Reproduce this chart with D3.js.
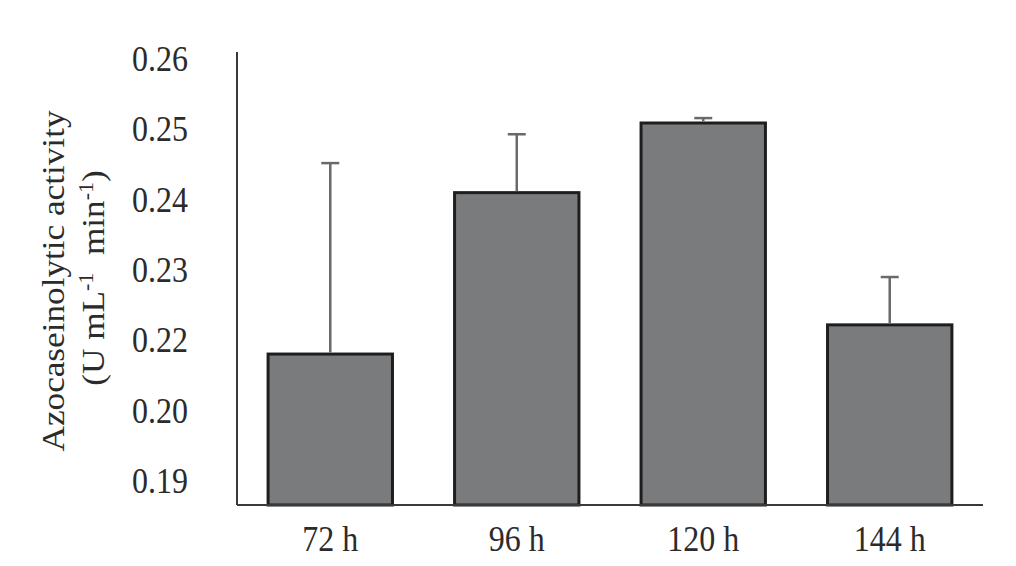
<!DOCTYPE html>
<html>
<head>
<meta charset="utf-8">
<script src="https://cdn.jsdelivr.net/npm/d3@7"></script>
<style>
  body { margin: 0; background: #fff; }
  text { font-family: "Liberation Serif", "Times New Roman", serif; fill: #2b2b2b; }
</style>
</head>
<body>
<div id="chart"></div>
<script>
// Données
var categories = ["72 h", "96 h", "120 h", "144 h"];
var activity = [0.2161, 0.2410, 0.2509, 0.2222];
var errors = [0.0291, 0.0083, 0.0007, 0.0068];
var tickValues = [0.19, 0.20, 0.22, 0.23, 0.24, 0.25, 0.26];
var tickLabels = ["0.19", "0.20", "0.22", "0.23", "0.24", "0.25", "0.26"];

// Dimensions
var margin = {
        top: 52,
        right: 33,
        bottom: 61,
        left: 237
    },
    width = 1016 - margin.left - margin.right,
    height = 566 - margin.top - margin.bottom;

var svg = d3.select("#chart")
    .append("svg")
    .attr("width", width + margin.left + margin.right)
    .attr("height", height + margin.top + margin.bottom)
    .append("g")
    .attr("transform", "translate(" + margin.left + "," + margin.top + ")");

/* Axe Y : les graduations sont régulièrement espacées
   même si les étiquettes ne le sont pas (0.20 -> 0.22) */
var padBottom = 24, padTop = 7;
var step = (height - padBottom - padTop) / (tickValues.length - 1);
var y = d3.scaleLinear()
    .domain(tickValues)
    .range(tickValues.map(function(d, i) { return height - padBottom - i * step; }));

var x = d3.scaleBand()
    .domain(categories)
    .range([0, width])
    .paddingInner(0.333)
    .paddingOuter(0.1667);

var fontSize = 32, stretch = 1.1;

// Barres
svg.selectAll(".bar")
    .data(activity)
    .enter().append("rect")
    .attr("class", "bar")
    .attr("x", function(d, i) { return x(categories[i]); })
    .attr("y", function(d) { return y(d); })
    .attr("width", x.bandwidth())
    .attr("height", function(d) { return height - y(d); })
    .style("fill", "#7a7b7d")
    .style("stroke", "#1e1e1e")
    .style("stroke-width", "3px");

// Barres d'erreur (partie haute seulement)
var err = svg.selectAll(".err")
    .data(activity)
    .enter().append("g")
    .attr("class", "err")
    .style("stroke", "#6a6a6a")
    .style("stroke-width", "2.5px");

err.append("line")
    .attr("x1", function(d, i) { return x(categories[i]) + x.bandwidth() / 2; })
    .attr("x2", function(d, i) { return x(categories[i]) + x.bandwidth() / 2; })
    .attr("y1", function(d) { return y(d) - 1.5; })
    .attr("y2", function(d, i) { return y(d + errors[i]); });

err.append("line")
    .attr("x1", function(d, i) { return x(categories[i]) + x.bandwidth() / 2 - 9; })
    .attr("x2", function(d, i) { return x(categories[i]) + x.bandwidth() / 2 + 9; })
    .attr("y1", function(d, i) { return y(d + errors[i]); })
    .attr("y2", function(d, i) { return y(d + errors[i]); });

// Axes (simples lignes, sans graduations)
svg.append("line")
    .attr("x1", 0).attr("x2", 0)
    .attr("y1", 0).attr("y2", height)
    .style("stroke", "#3a3a3a")
    .style("stroke-width", "2px");

svg.append("line")
    .attr("x1", 0).attr("x2", width)
    .attr("y1", height).attr("y2", height)
    .style("stroke", "#3a3a3a")
    .style("stroke-width", "2px");

// Étiquettes de l'axe Y
svg.selectAll(".ytick")
    .data(tickValues)
    .enter().append("text")
    .attr("class", "ytick")
    .attr("transform", function(d) { return "translate(-49," + (y(d) + 12) + ") scale(1," + stretch + ")"; })
    .attr("text-anchor", "end")
    .style("font-size", fontSize + "px")
    .text(function(d, i) { return tickLabels[i]; });

// Étiquettes de l'axe X
svg.selectAll(".xtick")
    .data(categories)
    .enter().append("text")
    .attr("class", "xtick")
    .attr("transform", function(d) { return "translate(" + (x(d) + x.bandwidth() / 2) + "," + (height + 46) + ") scale(1," + stretch + ")"; })
    .attr("text-anchor", "middle")
    .style("font-size", fontSize + "px")
    .text(function(d) { return d; });

// Titre de l'axe Y
var cy = height / 2 - 52 + 6;
svg.append("text")
    .attr("transform", "translate(" + (64 - margin.left) + "," + (281 - margin.top) + ") rotate(-90) scale(" + stretch + ",1)")
    .attr("text-anchor", "middle")
    .style("font-size", fontSize + "px")
    .text("Azocaseinolytic activity");

var unit = svg.append("text")
    .attr("transform", "translate(" + (104 - margin.left) + "," + (278 - margin.top) + ") rotate(-90) scale(" + stretch + ",1)")
    .attr("text-anchor", "middle")
    .style("font-size", fontSize + "px");

unit.append("tspan").text("(U mL");
unit.append("tspan").attr("dy", -11).style("font-size", "20px").text("-1");
unit.append("tspan").attr("dy", 11).text("\u00a0 min");
unit.append("tspan").attr("dy", -11).style("font-size", "20px").text("-1");
unit.append("tspan").attr("dy", 11).text(")");
</script>
</body>
</html>
